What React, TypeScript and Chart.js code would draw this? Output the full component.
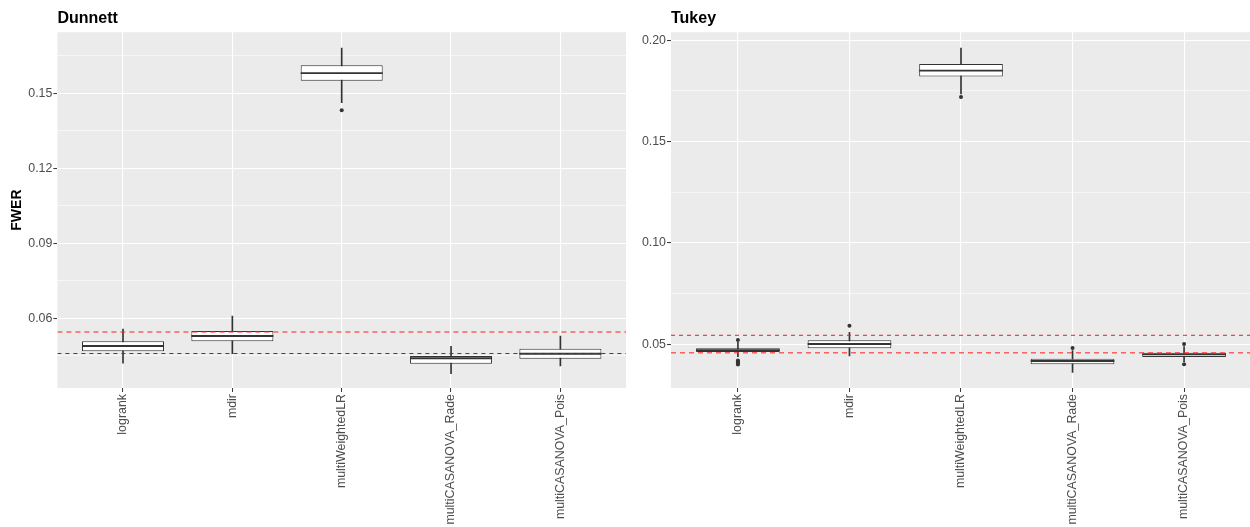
import React, { useEffect, useRef } from 'react';
import { Chart, registerables } from 'chart.js';

Chart.register(...registerables);

const FONT = "'Liberation Sans', Arial, Helvetica, sans-serif";

const categories = ['logrank', 'mdir', 'multiWeightedLR', 'multiCASANOVA_Rade', 'multiCASANOVA_Pois'];

// Dunnett panel box statistics
const dunnettLow = [0.0420, 0.0458, 0.1462, 0.0378, 0.0409];
const dunnettQ1 = [0.0468, 0.0508, 0.1550, 0.0418, 0.0438];
const dunnettMedian = [0.0489, 0.0529, 0.1580, 0.0440, 0.0458];
const dunnettQ3 = [0.0508, 0.0549, 0.1612, 0.0449, 0.0478];
const dunnettHigh = [0.0557, 0.0609, 0.1680, 0.0488, 0.0529];
const dunnettOutliers: number[][] = [[], [], [0.1432], [], []];
const dunnettYTicks = [0.045, 0.06, 0.075, 0.09, 0.105, 0.12, 0.135, 0.15, 0.165];
const dunnettYLabels = [0.06, 0.09, 0.12, 0.15];
const dunnettYMin = 0.0321;
const dunnettYMax = 0.1744;

// Tukey panel box statistics
const tukeyLow = [0.0439, 0.0443, 0.1735, 0.0362, 0.0415];
const tukeyQ1 = [0.0463, 0.0481, 0.1821, 0.0402, 0.0438];
const tukeyMedian = [0.0472, 0.0502, 0.1850, 0.0418, 0.0451];
const tukeyQ3 = [0.0481, 0.0520, 0.1882, 0.0429, 0.0459];
const tukeyHigh = [0.0510, 0.0560, 0.1961, 0.0469, 0.0489];
const tukeyOutliers: number[][] = [
  [0.0522, 0.0421, 0.0415, 0.0410, 0.0405, 0.0401],
  [0.0592],
  [0.1720],
  [0.0482],
  [0.0502, 0.0402],
];
const tukeyYTicks = [0.05, 0.075, 0.10, 0.125, 0.15, 0.175, 0.20];
const tukeyYLabels = [0.05, 0.10, 0.15, 0.20];
const tukeyYMin = 0.0285;
const tukeyYMax = 0.2039;

// reference lines
const refUpper = 0.0545;
const refLower = 0.0459;

const xMin = 0.4;
const xMax = 5.6;

const isIn = (v: number, arr: number[]) => arr.some((a) => Math.abs(a - v) < 1e-9);

const panelBg = {
  id: 'panelBg',
  beforeDraw(chart: any) {
    const { ctx, chartArea } = chart;
    ctx.save();
    ctx.fillStyle = '#EBEBEB';
    ctx.fillRect(chartArea.left, chartArea.top, chartArea.right - chartArea.left, chartArea.bottom - chartArea.top);
    ctx.restore();
  },
};

const medianLines = {
  id: 'medianLines',
  afterDatasetDraw(chart: any, args: any, opts: any) {
    const ds = chart.data.datasets[args.index];
    if (ds.label !== 'box') return;
    const y = chart.scales.y;
    const ctx = chart.ctx;
    ctx.save();
    ctx.strokeStyle = '#333333';
    ctx.lineWidth = 1.8;
    args.meta.data.forEach((el: any, i: number) => {
      const py = y.getPixelForValue(opts.values[i]);
      ctx.beginPath();
      ctx.moveTo(el.x - el.width / 2, py);
      ctx.lineTo(el.x + el.width / 2, py);
      ctx.stroke();
    });
    ctx.restore();
  },
};

type PanelProps = {
  title: string;
  yTitle?: string;
  low: number[];
  q1: number[];
  median: number[];
  q3: number[];
  high: number[];
  outliers: number[][];
  yTicks: number[];
  yLabels: number[];
  yMin: number;
  yMax: number;
  width: number;
  yAxisWidth: number;
  padRight: number;
  upperStyle: { color: string; width: number; dash: number[] };
  lowerStyle: { color: string; width: number; dash: number[] };
};

function Panel(p: PanelProps) {
  const ref = useRef<HTMLCanvasElement>(null);
  useEffect(() => {
    if (!ref.current) return;
    const xs = categories.map((_, i) => i + 1);
    const chart = new Chart(ref.current, {
      type: 'bar',
      data: {
        datasets: [
          {
            type: 'bar',
            label: 'whisker',
            data: xs.map((x, i) => ({ x, y: [p.low[i], p.high[i]] })),
            barThickness: 1,
            backgroundColor: '#333333',
            borderWidth: 0,
            grouped: false,
            order: 4,
          } as any,
          {
            type: 'bar',
            label: 'box',
            data: xs.map((x, i) => ({ x, y: [p.q1[i], p.q3[i]] })),
            backgroundColor: '#FFFFFF',
            borderColor: '#333333',
            borderWidth: 1,
            borderSkipped: false,
            barPercentage: 0.75,
            categoryPercentage: 1,
            grouped: false,
            order: 3,
          } as any,
          {
            type: 'scatter',
            label: 'outliers',
            data: p.outliers.flatMap((arr, i) => arr.map((v) => ({ x: i + 1, y: v }))),
            pointRadius: 2,
            pointBackgroundColor: '#333333',
            pointBorderWidth: 0,
            order: 2,
          } as any,
          {
            type: 'line',
            label: 'upper',
            data: [{ x: xMin, y: refUpper }, { x: xMax, y: refUpper }],
            borderColor: p.upperStyle.color,
            borderWidth: p.upperStyle.width,
            borderDash: p.upperStyle.dash,
            pointRadius: 0,
            fill: false,
            order: 1,
          } as any,
          {
            type: 'line',
            label: 'lower',
            data: [{ x: xMin, y: refLower }, { x: xMax, y: refLower }],
            borderColor: p.lowerStyle.color,
            borderWidth: p.lowerStyle.width,
            borderDash: p.lowerStyle.dash,
            pointRadius: 0,
            fill: false,
            order: 0,
          } as any,
        ],
      },
      options: {
        animation: false,
        responsive: false,
        maintainAspectRatio: false,
        layout: { padding: { left: 0, right: p.padRight, top: 0, bottom: 0 } },
        plugins: {
          legend: { display: false },
          tooltip: { enabled: false },
          title: {
            display: true,
            text: p.title,
            align: 'start',
            fullSize: false,
            color: '#000000',
            font: { family: FONT, size: 16, weight: 'bold' },
            padding: { top: 9, bottom: 4 },
          },
          medianLines: { values: p.median },
        } as any,
        scales: {
          x: {
            type: 'linear',
            min: xMin,
            max: xMax,
            offset: false,
            afterBuildTicks: (axis: any) => {
              axis.ticks = xs.map((v) => ({ value: v }));
            },
            afterFit: (axis: any) => {
              axis.height = 139;
            },
            border: { display: false },
            grid: {
              offset: false,
              color: '#FFFFFF',
              lineWidth: 1.1,
              drawTicks: true,
              tickLength: 4,
              tickColor: '#333333',
              tickWidth: 1,
            },
            ticks: {
              autoSkip: false,
              minRotation: 90,
              maxRotation: 90,
              padding: 2,
              color: '#4D4D4D',
              font: { family: FONT, size: 12.4 },
              callback: (v: any) => categories[Math.round(Number(v)) - 1] ?? '',
            },
          },
          y: {
            type: 'linear',
            min: p.yMin,
            max: p.yMax,
            afterBuildTicks: (axis: any) => {
              axis.ticks = p.yTicks.map((v) => ({ value: v }));
            },
            afterFit: (axis: any) => {
              axis.width = p.yAxisWidth;
            },
            border: { display: false },
            title: p.yTitle
              ? {
                  display: true,
                  text: p.yTitle,
                  color: '#000000',
                  font: { family: FONT, size: 14, weight: 'bold' },
                  padding: { top: 9, bottom: 0 },
                }
              : { display: false },
            grid: {
              color: '#FFFFFF',
              lineWidth: (ctx: any) => (ctx.tick && isIn(ctx.tick.value, p.yLabels) ? 1.1 : 0.55),
              drawTicks: true,
              tickLength: 4,
              tickColor: (ctx: any) => (ctx.tick && isIn(ctx.tick.value, p.yLabels) ? '#333333' : 'rgba(0,0,0,0)'),
              tickWidth: 1,
            },
            ticks: {
              autoSkip: false,
              padding: 1,
              color: '#4D4D4D',
              font: { family: FONT, size: 12.4 },
              callback: (v: any) => (isIn(Number(v), p.yLabels) ? Number(v).toFixed(2) : ''),
            },
          },
        },
      } as any,
      plugins: [panelBg, medianLines],
    });
    return () => chart.destroy();
  }, []);
  return <canvas ref={ref} width={p.width} height={527} style={{ width: p.width, height: 527, display: 'block', flex: '0 0 auto' }} />;
}

export default function App() {
  return (
    <div style={{ position: 'absolute', left: 0, top: 0, width: 1250, height: 527, background: '#FFFFFF', display: 'flex', overflow: 'hidden' }}>
      <Panel
        title="Dunnett"
        yTitle="FWER"
        low={dunnettLow}
        q1={dunnettQ1}
        median={dunnettMedian}
        q3={dunnettQ3}
        high={dunnettHigh}
        outliers={dunnettOutliers}
        yTicks={dunnettYTicks}
        yLabels={dunnettYLabels}
        yMin={dunnettYMin}
        yMax={dunnettYMax}
        width={630}
        yAxisWidth={57.4}
        padRight={0}
        upperStyle={{ color: 'rgba(255,40,40,0.7)', width: 1.5, dash: [5, 4] }}
        lowerStyle={{ color: '#C01010', width: 1, dash: [4, 4] }}
      />
      <Panel
        title="Tukey"
        low={tukeyLow}
        q1={tukeyQ1}
        median={tukeyMedian}
        q3={tukeyQ3}
        high={tukeyHigh}
        outliers={tukeyOutliers}
        yTicks={tukeyYTicks}
        yLabels={tukeyYLabels}
        yMin={tukeyYMin}
        yMax={tukeyYMax}
        width={625}
        yAxisWidth={41}
        padRight={0}
        upperStyle={{ color: '#E02020', width: 1, dash: [4, 4] }}
        lowerStyle={{ color: 'rgba(255,40,40,0.7)', width: 1.5, dash: [5, 4] }}
      />
    </div>
  );
}
